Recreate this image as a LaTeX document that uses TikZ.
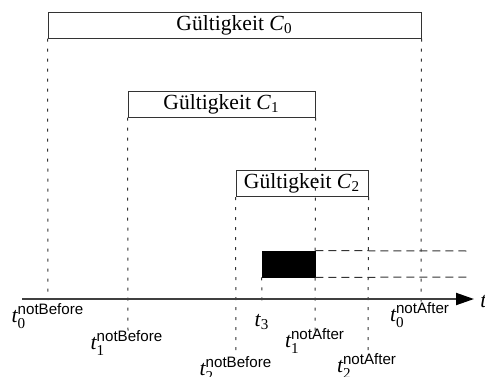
\documentclass[tikz,border=0pt]{standalone}
\usepackage{amsmath}
\usepackage{fontspec}
\setmainfont{Liberation Serif}
\setsansfont{Liberation Sans}
\usetikzlibrary{arrows.meta}

% time label: italic t with upright index and sans-serif superscript
\newcommand{\tlab}[2]{$\textit{t}_{\textrm{#1}}^{\textsf{#2}}$}

\tikzset{
  every node/.style={font=\fontsize{10.8}{13}\selectfont},
  validity/.style={draw=black!80, line width=0.5pt, fill=white, inner sep=0pt,
    minimum height=13pt},
  usage/.style={fill=black, draw=black, inner sep=0pt, minimum height=13pt,
    minimum width=26.5pt},
  marker/.style={draw=black!80, line width=0.5pt, dash pattern=on 1.5pt off 3.5pt},
  extend/.style={draw=black!80, line width=0.5pt, dash pattern=on 4pt off 2.5pt},
  axis/.style={draw=black!75, line width=1pt,
    -{Triangle[length=9pt,width=6pt,fill=black,color=black]}},
  tlabel/.style={inner sep=0pt}
}

\begin{document}
\begin{tikzpicture}[x=0.5pt,y=-0.5pt]
  \useasboundingbox (0,0) rectangle (485,376);

  % validity periods of the certificates
  \node[validity, minimum width=186.5pt] (c0) at (234.5,25) {Gültigkeit \textit{C}\textsubscript{0}};
  \node[validity, minimum width=93.5pt] (c1) at (221.5,104) {Gültigkeit \textit{C}\textsubscript{1}};
  \node[validity, minimum width=66pt] (c2) at (302,183.5) {Gültigkeit \textit{C}\textsubscript{2}};

  % end points of the marker lines
  \coordinate (e0b) at (48,300);
  \coordinate (e1b) at (128,331);
  \coordinate (e2b) at (236,357);
  \coordinate (e3) at (262,304);
  \coordinate (e1a) at (315,334);
  \coordinate (e2a) at (368,353);
  \coordinate (e0a) at (421,302);

  % marker lines down to the time axis
  \draw[marker] (c0.south west) -- (e0b);
  \draw[marker] (c0.south east) -- (e0a);
  \draw[marker] (c1.south west) -- (e1b);
  \draw[marker] (c1.south east) -- (e1a);
  \draw[marker] (c2.south west) -- (e2b);
  \draw[marker] (c2.south east) -- (e2a);

  % usage period starting at t3
  \node[usage] (u) at (288.5,264) {};
  \draw[marker] (u.south west) -- (e3);
  \coordinate (r1) at (470,251);
  \coordinate (r2) at (470,277);
  \draw[extend] (u.north east) -- (r1);
  \draw[extend] (u.south east) -- (r2);

  % time axis
  \coordinate (a0) at (22,299);
  \coordinate (a1) at (474,299);
  \draw[axis] (a0) -- (a1);
  \node[anchor=west, inner sep=0pt] (tx) at (480,302) {\textit{t}};

  % time labels
  \node[tlabel] (l0b) at (48,316) {\tlab{0}{notBefore}};
  \node[tlabel] (l1b) at (127,343) {\tlab{1}{notBefore}};
  \node[tlabel] (l2b) at (236,369) {\tlab{2}{notBefore}};
  \node[tlabel] (l3) at (262,322) {\textit{t}\textsubscript{3}};
  \node[tlabel] (l1a) at (315,341) {\tlab{1}{notAfter}};
  \node[tlabel] (l2a) at (367,366) {\tlab{2}{notAfter}};
  \node[tlabel] (l0a) at (420,315) {\tlab{0}{notAfter}};
\end{tikzpicture}
\end{document}
